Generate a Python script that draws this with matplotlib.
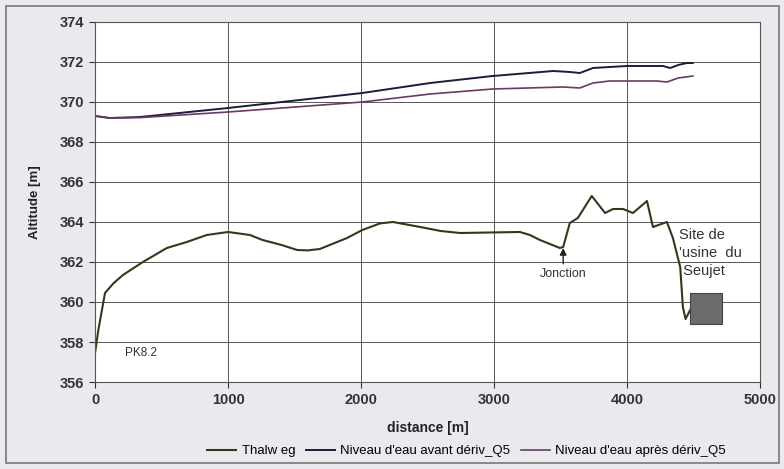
import numpy as np
import matplotlib.pyplot as plt
from matplotlib.patches import Rectangle

plt.rcParams['font.family'] = ['Liberation Sans', 'DejaVu Sans']

# Thalweg (fond du lit)
d_thalweg = [0, 25, 75, 138, 210, 360, 540, 690, 840, 1000, 1165, 1260, 1403, 1520, 1600,
             1690, 1895, 2010, 2143, 2240, 2445, 2600, 2745, 3195, 3270, 3345, 3495, 3520,
             3570, 3630, 3735, 3835, 3895, 3970, 4045, 4150, 4195, 4300, 4345, 4400, 4420,
             4440, 4475]
z_thalweg = [357.45, 358.6, 360.45, 360.93, 361.35, 362.0, 362.7, 363.0, 363.35, 363.5,
             363.35, 363.1, 362.85, 362.6, 362.58, 362.65, 363.2, 363.6, 363.93, 364.0,
             363.75, 363.55, 363.45, 363.5, 363.35, 363.1, 362.7, 362.75, 363.95, 364.2,
             365.3, 364.45, 364.65, 364.65, 364.45, 365.05, 363.75, 364.0, 363.2, 361.75,
             359.75, 359.15, 359.6]

# Niveau d'eau avant dérivation
d_avant = [0, 110, 340, 1000, 2010, 2520, 2990, 3445, 3570, 3645, 3745, 3870, 4000,
           4270, 4325, 4385, 4450, 4495]
z_avant = [369.3, 369.2, 369.25, 369.7, 370.45, 370.95, 371.3, 371.55, 371.5, 371.45,
           371.7, 371.75, 371.8, 371.8, 371.7, 371.85, 371.95, 371.95]

# Niveau d'eau après dérivation
d_apres = [0, 110, 340, 1000, 2010, 2520, 2990, 3520, 3645, 3745, 3870, 4225, 4300,
           4385, 4495]
z_apres = [369.3, 369.2, 369.22, 369.5, 370.0, 370.4, 370.65, 370.75, 370.7, 370.95,
           371.05, 371.05, 371.0, 371.2, 371.3]

fig = plt.figure(figsize=(7.84, 4.69), dpi=100, facecolor='#eaeaee')
ax = fig.add_axes([0.1212, 0.1855, 0.8482, 0.7676])
ax.set_facecolor('white')

# cadre extérieur
fig.patches.append(Rectangle((0.008, 0.012), 0.986, 0.975, transform=fig.transFigure,
                             fill=False, edgecolor='#777777', linewidth=1.2))

ax.plot(d_thalweg, z_thalweg, color='#2f3a1c', linewidth=1.5, label='Thalw eg')
ax.plot(d_avant, z_avant, color='#1c1c3c', linewidth=1.4, label="Niveau d'eau avant dériv_Q5")
ax.plot(d_apres, z_apres, color='#6a3a62', linewidth=1.2, label="Niveau d'eau après dériv_Q5")

# usine du Seujet
ax.add_patch(Rectangle((4475, 358.9), 240, 1.55, facecolor='#6b6b6b', edgecolor='#444444',
                       linewidth=0.8, zorder=3))

ax.set_xlim(0, 5000)
ax.set_ylim(356, 374)
ax.set_xticks(np.arange(0, 5001, 1000))
ax.set_yticks(np.arange(356, 375, 2))
ax.grid(True, color='#555555', linewidth=0.7)
ax.tick_params(direction='out', length=4, colors='#333333', labelsize=10.5, pad=4)
for lab in ax.get_xticklabels() + ax.get_yticklabels():
    lab.set_fontweight('bold')
for s in ax.spines.values():
    s.set_color('#555555')

ax.set_xlabel('distance [m]', fontsize=10, fontweight='bold', color='#222222', labelpad=10)
ax.set_ylabel('Altitude [m]', fontsize=9.5, fontweight='bold', color='#222222', labelpad=13)

ax.text(225, 357.45, 'PK8.2', fontsize=8.5, color='#333333', va='center')
ax.annotate('Jonction', xy=(3520, 362.7), xytext=(3520, 361.4), fontsize=9,
            color='#333333', ha='center', va='center',
            arrowprops=dict(arrowstyle='-|>', color='#222222', lw=1, mutation_scale=10,
                            shrinkA=1, shrinkB=0))
ax.text(4390, 363.7, "Site de\n'usine  du\n Seujet", fontsize=10.5, color='#333333',
        linespacing=1.35, ha='left', va='top')

fig.legend(loc='lower center', bbox_to_anchor=(0.595, 0.0), ncol=3, frameon=False,
           fontsize=9.5, handlelength=2.2, columnspacing=0.8, handletextpad=0.4)

fig.savefig('out.png', dpi=100, facecolor=fig.get_facecolor())
